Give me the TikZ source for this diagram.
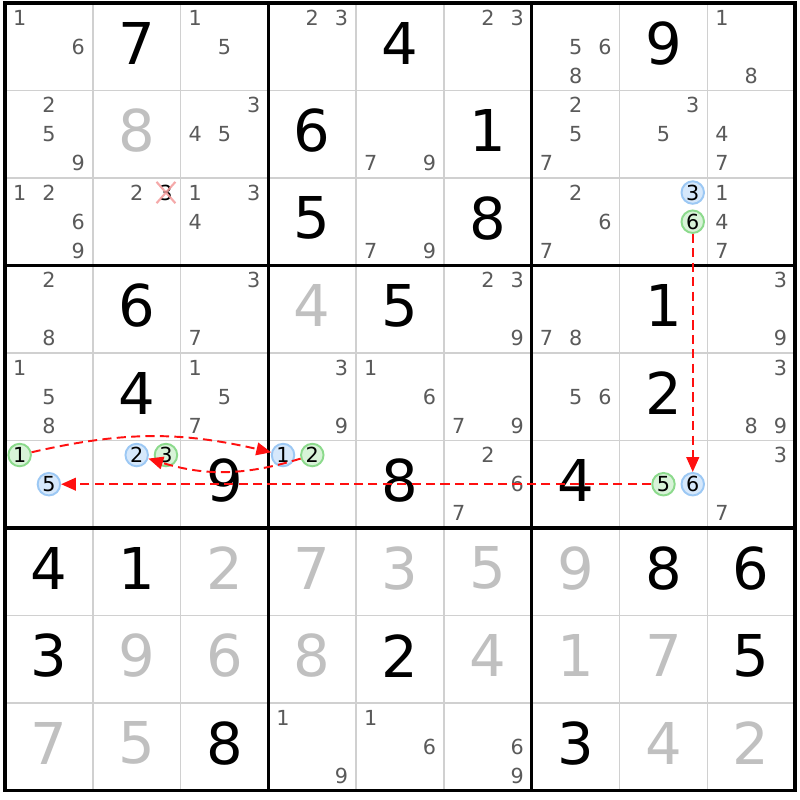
\documentclass[tikz,border=0pt]{standalone}
\usepackage{fontspec}
\setmainfont{DejaVu Sans}
\usetikzlibrary{arrows.meta}
\definecolor{thingray}{HTML}{D0D0D0}
\definecolor{solvedgray}{HTML}{C0C0C0}
\definecolor{candgray}{HTML}{5A5A5A}
\definecolor{onfill}{HTML}{D6E8FB}
\definecolor{ondraw}{HTML}{9CC8F4}
\definecolor{offfill}{HTML}{D8F3D8}
\definecolor{offdraw}{HTML}{8CDA8C}
\definecolor{chainred}{HTML}{FF1010}
\definecolor{xpink}{HTML}{F49A9A}
\tikzset{
    given/.style ={font=\fontsize{16.4}{18}\selectfont, inner sep=0pt, yshift=1pt},
    solved/.style ={given, text=solvedgray},
    cand/.style ={font=\fontsize{5.9}{7}\selectfont, text=candgray, inner sep=0.6pt},
    xcand/.style ={cand, text=black},
    oncand/.style ={cand, text=black, circle, inner sep=0pt, draw=ondraw, fill=onfill, line width=0.55pt, minimum size=0.225cm},
    offcand/.style ={oncand, draw=offdraw, fill=offfill},
    link/.style ={chainred, line width=0.55pt, dash pattern=on 2.6pt off 1.5pt, -{Triangle[length=4.2pt,width=3.6pt]}},
    cellline/.style ={thingray, line width=0.5pt},
    boxline/.style ={black, line width=0.9pt}
}

\begin{document}
\begin{tikzpicture}[x=0.878cm, y=-0.875cm]
    \useasboundingbox[fill=white] (-0.057,-0.034) rectangle (9.055,9.109);

    % grid
    \foreach \i in {1,2,4,5,7,8} {
        \draw[cellline] (\i,0) -- (\i,9);
        \draw[cellline] (0,\i) -- (9,\i);
    }
    \foreach \i in {3,6} {
        \draw[boxline] (\i,0) -- (\i,9);
        \draw[boxline] (0,\i) -- (9,\i);
    }
    \draw[boxline, line width=1.1pt] (0,0) rectangle (9,9);

    % givens and solved cells
    \foreach \r/\c/\v in {1/2/7, 1/5/4, 1/8/9, 2/4/6, 2/6/1, 3/4/5, 3/6/8,
        4/2/6, 4/5/5, 4/8/1, 5/2/4, 5/8/2, 6/3/9, 6/5/8, 6/7/4,
        7/1/4, 7/2/1, 7/8/8, 7/9/6, 8/1/3, 8/5/2, 8/9/5, 9/3/8, 9/7/3}
        \node[given] (g\r\c) at (\c-0.5,\r-0.5) {\v};
    \foreach \r/\c/\v in {2/2/8, 4/4/4, 7/3/2, 7/4/7, 7/5/3, 7/6/5, 7/7/9,
        8/2/9, 8/3/6, 8/4/8, 8/6/4, 8/7/1, 8/8/7, 9/1/7, 9/2/5, 9/8/4, 9/9/2}
        \node[solved] (g\r\c) at (\c-0.5,\r-0.5) {\v};

    % pencil marks
    \foreach \r/\c/\ds/\s in {1/1/{1,6}/cand, 1/3/{1,5}/cand, 1/4/{2,3}/cand, 1/6/{2,3}/cand,
        1/7/{5,6,8}/cand, 1/9/{1,8}/cand,
        2/1/{2,5,9}/cand, 2/3/{3,4,5}/cand, 2/5/{7,9}/cand, 2/7/{2,5,7}/cand,
        2/8/{3,5}/cand, 2/9/{4,7}/cand,
        3/1/{1,2,6,9}/cand, 3/2/{2}/cand, 3/2/{3}/xcand, 3/3/{1,3,4}/cand,
        3/5/{7,9}/cand, 3/7/{2,6,7}/cand, 3/9/{1,4,7}/cand,
        3/8/{3}/oncand, 3/8/{6}/offcand,
        4/1/{2,8}/cand, 4/3/{3,7}/cand, 4/6/{2,3,9}/cand, 4/7/{7,8}/cand, 4/9/{3,9}/cand,
        5/1/{1,5,8}/cand, 5/3/{1,5,7}/cand, 5/4/{3,9}/cand, 5/5/{1,6}/cand,
        5/6/{7,9}/cand, 5/7/{5,6}/cand, 5/9/{3,8,9}/cand,
        6/1/{5}/oncand, 6/1/{1}/offcand, 6/2/{2}/oncand, 6/2/{3}/offcand,
        6/4/{1}/oncand, 6/4/{2}/offcand, 6/8/{6}/oncand, 6/8/{5}/offcand,
        6/6/{2,6,7}/cand, 6/9/{3,7}/cand,
        9/4/{1,9}/cand, 9/5/{1,6}/cand, 9/6/{6,9}/cand} {
        \foreach \d in \ds {
            \pgfmathsetmacro\cx{\c-0.5+(mod(\d-1,3)-1)/3}
            \pgfmathsetmacro\cy{\r-0.5+(floor((\d-1)/3)-1)/3}
            \node[\s] (n\r\c\d) at (\cx,\cy) {\d};
        }
    }

    % eliminated candidate
    \draw[xpink, line width=0.6pt, opacity=0.85] (n323.north west) -- (n323.south east)
        (n323.north east) -- (n323.south west);

    % chain
    \draw[link] (n386) -- (n686);
    \draw[link] (n685) -- (n615);
    \draw[link] (n611) to[bend left=13] (n641);
    \draw[link] (n642) to[bend left=17] (n622);
\end{tikzpicture}
\end{document}
